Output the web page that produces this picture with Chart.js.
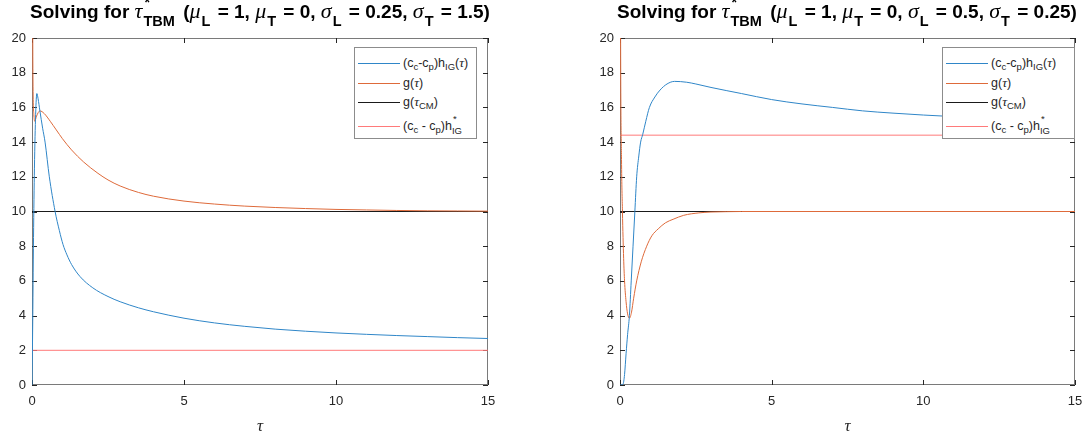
<!doctype html>
<html lang="en">
<head>
<meta charset="utf-8">
<title>Solving for tau*</title>
<script src="https://cdn.jsdelivr.net/npm/chart.js"></script>
<style>
  body { margin: 0; background: #fff; }
  #wrap { position: relative; width: 1092px; height: 438px; overflow: hidden; font-family: "Liberation Sans", Arial, sans-serif; color: #262626; }
  canvas { position: absolute; top: 0; }
  .title { position: absolute; top: 0; height: 22px; line-height: 22px; font-weight: bold; font-size: 19px; color: #000; white-space: nowrap; transform: translateX(-50%); }
  .title i { font-family: "Liberation Serif", serif; font-weight: normal; font-size: 22px; margin-right: 1px; }
  .title sub { font-size: 14.5px; position: relative; top: 8px; vertical-align: baseline; margin-right: 2px; }
  .st { position: relative; display: inline-block; line-height: 10px; }
  .title .st { margin-right: 3px; }
  .st .up { position: absolute; left: 1px; top: -10px; font-size: 14px; }
  .st .dn { position: relative; top: 8px; font-size: 14.5px; }
  .legend { position: absolute; top: 47px; height: 92px; box-sizing: border-box; border: 1px solid #8c8c8c; background: #fff; font-size: 12.5px; color: #262626; }
  .row { position: absolute; left: 0; height: 14px; line-height: 14px; white-space: nowrap; }
  .row .ln { position: absolute; left: 3px; top: 7px; width: 42px; height: 1px; }
  .row .tx { position: absolute; left: 48px; top: 0; }
  .row sub { font-size: 9.5px; position: relative; top: 3px; vertical-align: baseline; }
  .row i { font-family: "Liberation Serif", serif; font-size: 13.5px; }
  .row .st { line-height: 8px; }
  .row .st .up { top: -7px; left: 1px; font-size: 9.5px; }
  .row .st .dn { top: 4px; font-size: 9.5px; }
</style>
</head>
<body>
<div id="wrap">
  <canvas id="c1" width="546" height="438" style="left:0"></canvas>
  <canvas id="c2" width="546" height="438" style="left:546px"></canvas>
  <div class="title" id="t1" style="left:260px"></div>
  <div class="title" id="t2" style="left:847px"></div>
  <div class="legend" id="l1" style="left:354px;width:123px"></div>
  <div class="legend" id="l2" style="left:942px;width:133px"></div>
</div>
<script>
// axis ticks
const xTicks = [0, 5, 10, 15];
const yTicks = [0, 2, 4, 6, 8, 10, 12, 14, 16, 18, 20];

// title parameters (left, right)
const muL = [1, 1];
const muT = [0, 0];
const sigmaL = [0.25, 0.5];
const sigmaT = [1.5, 0.25];

// legend labels (plain + rich)
const labels = ['(cc-cp)hIG(τ)', 'g(τ)', 'g(τCM)', '(cc - cp)h*IG'];
const richLabels = [
  '(c<sub>c</sub>-c<sub>p</sub>)h<sub>IG</sub>(<i>τ</i>)',
  'g(<i>τ</i>)',
  'g(<i>τ</i><sub>CM</sub>)',
  '(c<sub>c</sub> - c<sub>p</sub>)h<span class="st"><span class="up">*</span><span class="dn">IG</span></span>'
];
const colors = ['#2f86c8', '#de6a3a', '#1a1a1a', '#ff7a7a'];

// left panel: sigma_L = 0.25, sigma_T = 1.5
const tauHazL = [0, 0.02, 0.05, 0.08, 0.12, 0.16, 0.2, 0.26, 0.35, 0.43, 0.57, 0.76, 0.9, 1.02, 1.15, 1.3, 1.58, 2.0, 2.5, 2.9, 3.5, 4, 5, 6, 7, 8, 9, 10, 11, 12, 13, 14, 15];
const hazL = [0, 3, 8.5, 12.5, 15.6, 16.8, 16.5, 15.8, 14.8, 14, 12, 10, 8.9, 8.1, 7.5, 6.95, 6.25, 5.6, 5.1, 4.8, 4.45, 4.22, 3.85, 3.58, 3.38, 3.22, 3.1, 3.0, 2.92, 2.85, 2.79, 2.73, 2.68];
const tauGL = [0, 0.03, 0.06, 0.09, 0.15, 0.26, 0.4, 0.6, 0.8, 1.0, 1.3, 1.7, 2.17, 2.5, 2.9, 3.5, 4, 5, 6, 7, 8, 9, 10, 11, 12, 13, 14, 15];
const gL = [40, 18, 15.6, 15.2, 15.5, 15.8, 15.65, 15.2, 14.7, 14.2, 13.55, 12.85, 12.2, 11.82, 11.47, 11.1, 10.88, 10.6, 10.43, 10.31, 10.23, 10.17, 10.12, 10.09, 10.06, 10.04, 10.03, 10.02];
const gCmL = 10;
const hStarL = 2;

// right panel: sigma_L = 0.5, sigma_T = 0.25
const tauHazR = [0, 0.1, 0.15, 0.2, 0.25, 0.31, 0.37, 0.43, 0.49, 0.55, 0.62, 0.68, 0.75, 0.85, 0.97, 1.15, 1.32, 1.55, 1.8, 2.2, 2.5, 3, 4, 5, 6, 7, 8, 9, 10, 11, 12, 13, 14, 15];
const hazR = [0, 0.05, 0.6, 1.8, 2.9, 4, 6, 8, 10, 12, 13.2, 14, 14.45, 15.2, 16, 16.6, 17, 17.35, 17.5, 17.45, 17.35, 17.15, 16.8, 16.45, 16.2, 16, 15.8, 15.67, 15.56, 15.47, 15.39, 15.32, 15.26, 15.2];
const tauGR = [0, 0.02, 0.05, 0.08, 0.12, 0.15, 0.2, 0.25, 0.31, 0.38, 0.45, 0.55, 0.7, 0.88, 1.05, 1.26, 1.5, 1.75, 2.1, 2.6, 3, 3.5, 4, 15];
const gR = [40, 20, 13, 10, 7.3, 6, 4.8, 4.1, 3.85, 4.2, 5, 6, 7.1, 8, 8.6, 9, 9.35, 9.55, 9.78, 9.92, 9.97, 9.99, 10, 10];
const gCmR = 10;
const hStarR = 14.4;

function pts(xs, ys) {
  return xs.map((x, i) => ({ x: x, y: ys[i] }));
}

// matlab style box with inward ticks
const axesBox = {
  id: 'axesBox',
  beforeDatasetsDraw(chart) {
    const a = chart.chartArea, ctx = chart.ctx;
    const sx = chart.scales.x, sy = chart.scales.y;
    ctx.save();
    ctx.strokeStyle = '#7a7a7a';
    ctx.lineWidth = 1;
    ctx.strokeRect(a.left + 0.5, a.top + 0.5, a.right - a.left - 1, a.bottom - a.top - 1);
    ctx.strokeStyle = '#262626';
    ctx.beginPath();
    xTicks.forEach(v => {
      const px = Math.round(sx.getPixelForValue(v)) + 0.5;
      ctx.moveTo(px, a.bottom); ctx.lineTo(px, a.bottom - 5);
      ctx.moveTo(px, a.top); ctx.lineTo(px, a.top + 5);
    });
    yTicks.forEach(v => {
      const py = Math.round(sy.getPixelForValue(v)) + 0.5;
      ctx.moveTo(a.left, py); ctx.lineTo(a.left + 5, py);
      ctx.moveTo(a.right, py); ctx.lineTo(a.right - 5, py);
    });
    ctx.stroke();
    ctx.restore();
  }
};

function makeChart(id, padRight, yWidth, tauH, h, tauG, g, gCm, hStar) {
  const ds = (i, data, mono) => ({
    label: labels[i], data: data, borderColor: colors[i], backgroundColor: colors[i],
    borderWidth: 1, pointRadius: 0, fill: false,
    cubicInterpolationMode: mono ? 'monotone' : 'default', tension: 0
  });
  return new Chart(document.getElementById(id), {
    type: 'line',
    data: {
      datasets: [
        ds(0, pts(tauH, h), true),
        ds(1, pts(tauG, g), true),
        ds(2, [{ x: 0, y: gCm }, { x: 15, y: gCm }], false),
        ds(3, [{ x: 0, y: hStar }, { x: 15, y: hStar }], false)
      ]
    },
    options: {
      responsive: false,
      animation: false,
      devicePixelRatio: 1,
      layout: { padding: { left: 0, right: padRight, top: 38, bottom: 0 } },
      plugins: { legend: { display: false }, tooltip: { enabled: false } },
      scales: {
        x: {
          type: 'linear', min: 0, max: 15,
          afterBuildTicks: s => { s.ticks = xTicks.map(v => ({ value: v })); },
          ticks: { color: '#262626', font: { family: 'Liberation Sans', size: 13 }, padding: 9, maxRotation: 0 },
          grid: { display: false, drawTicks: false },
          border: { display: false },
          title: { display: true, text: 'τ', color: '#262626', font: { family: 'Liberation Serif', size: 17, style: 'italic' }, padding: { top: 0, bottom: 1 } },
          afterFit: s => { s.height = 53; }
        },
        y: {
          min: 0, max: 20,
          afterBuildTicks: s => { s.ticks = yTicks.map(v => ({ value: v })); },
          ticks: { color: '#262626', font: { family: 'Liberation Sans', size: 13 }, padding: 6 },
          grid: { display: false, drawTicks: false },
          border: { display: false },
          afterFit: s => { s.width = yWidth; }
        }
      }
    },
    plugins: [axesBox]
  });
}

function titleHtml(k) {
  return 'Solving for <i>τ</i><span class="st"><span class="up">*</span><span class="dn">TBM</span></span> (' +
    '<i>μ</i><sub>L</sub> = ' + muL[k] + ', <i>μ</i><sub>T</sub> = ' + muT[k] +
    ', <i>σ</i><sub>L</sub> = ' + sigmaL[k] + ', <i>σ</i><sub>T</sub> = ' + sigmaT[k] + ')';
}

function legendHtml() {
  const tops = [15, 35, 54, 78];
  return richLabels.map((t, i) =>
    '<div class="row" style="top:' + (tops[i] - 7) + 'px"><span class="ln" style="background:' + colors[i] + '"></span><span class="tx">' + t + '</span></div>'
  ).join('');
}

makeChart('c1', 58, 32, tauHazL, hazL, tauGL, gL, gCmL, hStarL);
makeChart('c2', 17, 74, tauHazR, hazR, tauGR, gR, gCmR, hStarR);
document.getElementById('t1').innerHTML = titleHtml(0);
document.getElementById('t2').innerHTML = titleHtml(1);
document.getElementById('l1').innerHTML = legendHtml();
document.getElementById('l2').innerHTML = legendHtml();
</script>
</body>
</html>
